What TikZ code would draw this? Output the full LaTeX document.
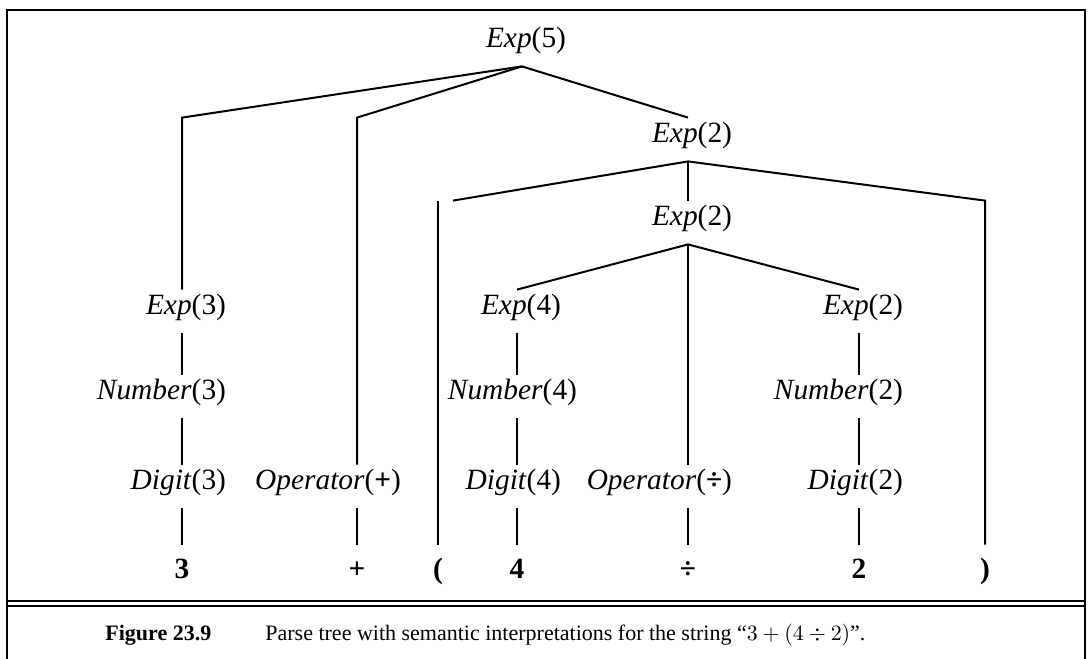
\documentclass[tikz,border=0pt]{standalone}
\usepackage{fontspec}
\setmainfont{Liberation Serif}
\usetikzlibrary{calc}
\tikzset{
  treelabel/.style={anchor=base, inner xsep=0pt, inner ysep=2pt, text height=10pt, text depth=7.5pt, font=\fontsize{14.7}{17}\selectfont},
  leaf/.style={anchor=base, inner xsep=0pt, inner ysep=2pt, text height=14.5pt, text depth=0pt, font=\fontsize{14.7}{17}\selectfont\bfseries},
  branch/.style={line width=1pt},
  frame/.style={line width=1.4pt},
  captext/.style={anchor=base west, inner sep=0pt, font=\fontsize{11}{13}\selectfont}
}
\newcommand{\lbl}[3][44pt]{\makebox[#1][r]{\textit{#2}(#3)}}

\begin{document}
\begin{tikzpicture}[x=0.5pt, y=-0.5pt]
  \useasboundingbox (0,0) rectangle (1088,659);
  % box and caption rule
  \draw[frame] (7,659) -- (7,10) -- (1085,10) -- (1085,659);
  \draw[frame] (7,601) -- (1085,601);
  \draw[frame] (7,606) -- (1085,606);

  % interior nodes
  \node[treelabel] (e5) at (522,47) {\lbl{Exp}{5}};
  \node[treelabel] (e2a) at (688,142) {\lbl{Exp}{2}};
  \node[treelabel] (e2b) at (688,225) {\lbl{Exp}{2}};
  \node[treelabel] (e3) at (182,314) {\lbl{Exp}{3}};
  \node[treelabel] (e4) at (517,314) {\lbl{Exp}{4}};
  \node[treelabel] (e2c) at (859,314) {\lbl{Exp}{2}};
  \node[treelabel] (n3) at (182,399) {\lbl{Number}{3}};
  \node[treelabel] (n4) at (517,399) {\lbl[60pt]{Number}{4}};
  \node[treelabel] (n2) at (859,399) {\lbl{Number}{2}};
  \node[treelabel] (d3) at (182,489) {\lbl{Digit}{3}};
  \node[treelabel] (op1) at (357,489) {\lbl{Operator}{\textbf{+}}};
  \node[treelabel] (d4) at (517,489) {\lbl{Digit}{4}};
  \node[treelabel] (op2) at (688,489) {\lbl{Operator}{\textbf{÷}}};
  \node[treelabel] (d2) at (859,489) {\lbl{Digit}{2}};

  % leaves
  \node[leaf] (t3) at (182,578) {3};
  \node[leaf] (tplus) at (357,578) {+};
  \node[leaf] (tlp) at (438,578) {(};
  \node[leaf] (t4) at (517,578) {4};
  \node[leaf] (tdiv) at (688,578) {÷};
  \node[leaf] (t2) at (859,578) {2};
  \node[leaf] (trp) at (985,578) {)};

  % branches
  \draw[branch] (e5.south) -- (e3.north |- e2a.north) -- (e3.north);
  \draw[branch] (e5.south) -- (op1.north |- e2a.north) -- (op1.north);
  \draw[branch] (e5.south) -- (e2a.north);
  \draw[branch] (e2a.south) -- ($(tlp.north |- e2b.north)+(15,0)$);
  \draw[branch] (tlp.north |- e2b.north) -- (tlp.north);
  \draw[branch] (e2a.south) -- (e2b.north);
  \draw[branch] (e2a.south) -- (trp.north |- e2b.north) -- (trp.north);
  \draw[branch] (e2b.south) -- (e4.north);
  \draw[branch] (e2b.south) -- (op2.north);
  \draw[branch] (e2b.south) -- (e2c.north);
  \foreach \a/\b in {e3/n3, n3/d3, d3/t3, op1/tplus, e4/n4, n4/d4, d4/t4, op2/tdiv, e2c/n2, n2/d2, d2/t2}
    \draw[branch] (\a.south) -- (\b.north);

  % caption
  \node[captext] (fignum) at (105,640) {\textbf{Figure 23.9}};
  \node[captext] (figtext) at (265,640) {Parse tree with semantic interpretations for the string “$3+(4\div 2)$”.};
\end{tikzpicture}
\end{document}
